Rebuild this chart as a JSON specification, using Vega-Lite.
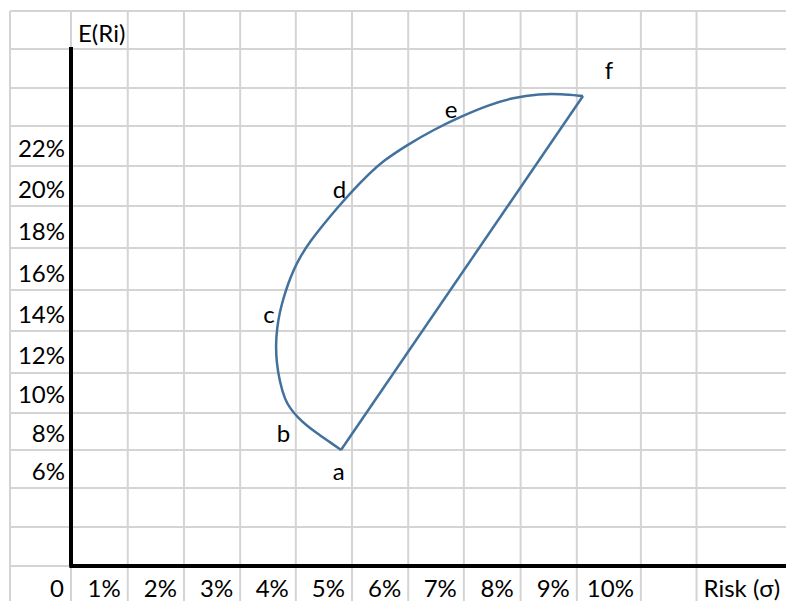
{
  "$schema": "https://vega.github.io/schema/vega-lite/v6.json",
  "width": 776,
  "height": 590,
  "autosize": {"type": "none"},
  "padding": {"left": 10, "top": 11, "right": 0, "bottom": 0},
  "background": "white",
  "view": {"stroke": null},
  "config": {"text": {"font": "Lato", "fontSize": 24, "color": "#000000"}},
  "datasets": {
    "vgrid": [{"x": -1.085}, {"x": 0}, {"x": 1.01}, {"x": 2.01}, {"x": 3.01}, {"x": 4.0}, {"x": 5.0}, {"x": 6.0}, {"x": 6.99}, {"x": 8.0}, {"x": 9.0}, {"x": 10.14}, {"x": 11.13}],
    "hgrid": [{"y": 28.71}, {"y": 26.75}, {"y": 24.73}, {"y": 22.76}, {"y": 20.69}, {"y": 18.62}, {"y": 16.45}, {"y": 14.28}, {"y": 12.16}, {"y": 9.98}, {"y": 7.92}, {"y": 6.0}, {"y": 4.04}, {"y": 2.02}, {"y": 0}],
    "curve": [
      {"part": "frontier", "i": 1, "risk": 4.804, "ret": 6.001},
      {"part": "frontier", "i": 2, "risk": 4.591, "ret": 6.441},
      {"part": "frontier", "i": 3, "risk": 4.377, "ret": 6.865},
      {"part": "frontier", "i": 4, "risk": 4.181, "ret": 7.294},
      {"part": "frontier", "i": 5, "risk": 4.021, "ret": 7.724},
      {"part": "frontier", "i": 6, "risk": 3.897, "ret": 8.174},
      {"part": "frontier", "i": 7, "risk": 3.808, "ret": 8.588},
      {"part": "frontier", "i": 8, "risk": 3.710, "ret": 9.571},
      {"part": "frontier", "i": 9, "risk": 3.657, "ret": 10.554},
      {"part": "frontier", "i": 10, "risk": 3.644, "ret": 11.433},
      {"part": "frontier", "i": 11, "risk": 3.665, "ret": 12.312},
      {"part": "frontier", "i": 12, "risk": 3.715, "ret": 13.140},
      {"part": "frontier", "i": 13, "risk": 3.781, "ret": 13.864},
      {"part": "frontier", "i": 14, "risk": 3.861, "ret": 14.589},
      {"part": "frontier", "i": 15, "risk": 3.959, "ret": 15.313},
      {"part": "frontier", "i": 16, "risk": 4.075, "ret": 15.986},
      {"part": "frontier", "i": 17, "risk": 4.253, "ret": 16.787},
      {"part": "frontier", "i": 18, "risk": 4.484, "ret": 17.641},
      {"part": "frontier", "i": 19, "risk": 4.751, "ret": 18.572},
      {"part": "frontier", "i": 20, "risk": 5.036, "ret": 19.503},
      {"part": "frontier", "i": 21, "risk": 5.320, "ret": 20.331},
      {"part": "frontier", "i": 22, "risk": 5.552, "ret": 20.952},
      {"part": "frontier", "i": 23, "risk": 5.979, "ret": 21.780},
      {"part": "frontier", "i": 24, "risk": 6.459, "ret": 22.581},
      {"part": "frontier", "i": 25, "risk": 6.922, "ret": 23.228},
      {"part": "frontier", "i": 26, "risk": 7.402, "ret": 23.823},
      {"part": "frontier", "i": 27, "risk": 7.865, "ret": 24.237},
      {"part": "frontier", "i": 28, "risk": 8.345, "ret": 24.418},
      {"part": "frontier", "i": 29, "risk": 8.701, "ret": 24.418},
      {"part": "frontier", "i": 30, "risk": 9.110, "ret": 24.315},
      {"part": "chord", "i": 1, "risk": 9.110, "ret": 24.315},
      {"part": "chord", "i": 2, "risk": 4.804, "ret": 6.001}
    ],
    "points": [
      {"label": "a", "risk": 4.765, "ret": 4.449},
      {"label": "b", "risk": 3.781, "ret": 6.415},
      {"label": "c", "risk": 3.523, "ret": 12.571},
      {"label": "d", "risk": 4.778, "ret": 19.038},
      {"label": "e", "risk": 6.762, "ret": 23.176},
      {"label": "f", "risk": 9.573, "ret": 25.194}
    ],
    "ylabels": [
      {"label": "22%", "y": 21.16}, {"label": "20%", "y": 19.04}, {"label": "18%", "y": 16.86},
      {"label": "16%", "y": 14.69}, {"label": "14%", "y": 12.57}, {"label": "12%", "y": 10.45},
      {"label": "10%", "y": 8.43}, {"label": "8%", "y": 6.41}, {"label": "6%", "y": 4.45}
    ],
    "xlabels": [
      {"label": "0", "x": 0}, {"label": "1%", "x": 1.01}, {"label": "2%", "x": 2.01}, {"label": "3%", "x": 3.01},
      {"label": "4%", "x": 4.0}, {"label": "5%", "x": 5.0}, {"label": "6%", "x": 6.0}, {"label": "7%", "x": 6.99},
      {"label": "8%", "x": 8.0}, {"label": "9%", "x": 9.0}, {"label": "10%", "x": 10.14}
    ],
    "titles": [
      {"label": "E(Ri)", "x": 0, "y": 27.11},
      {"label": "Risk (σ)", "x": 11.13, "y": -1.60}
    ]
  },
  "layer": [
    {
      "data": {"name": "vgrid"},
      "mark": {"type": "rule", "color": "#D4D4D4", "strokeWidth": 2},
      "encoding": {
        "x": {"field": "x", "type": "quantitative", "scale": {"domain": [-1.0854, 12.722], "nice": false, "zero": false}, "axis": null}
      }
    },
    {
      "data": {"name": "hgrid"},
      "mark": {"type": "rule", "color": "#D4D4D4", "strokeWidth": 2},
      "encoding": {
        "y": {"field": "y", "type": "quantitative", "scale": {"domain": [-1.8107, 28.712], "nice": false, "zero": false}, "axis": null}
      }
    },
    {
      "data": {"values": [{}]},
      "mark": {"type": "rule", "color": "#000000", "strokeWidth": 4},
      "encoding": {
        "x": {"datum": 0, "type": "quantitative"},
        "y": {"datum": 0, "type": "quantitative"},
        "y2": {"datum": 26.85}
      }
    },
    {
      "data": {"values": [{}]},
      "mark": {"type": "rule", "color": "#000000", "strokeWidth": 4},
      "encoding": {
        "x": {"datum": -0.03, "type": "quantitative"},
        "x2": {"datum": 12.722},
        "y": {"datum": 0, "type": "quantitative"}
      }
    },
    {
      "data": {"name": "curve"},
      "mark": {"type": "line", "color": "#41719C", "strokeWidth": 2.5, "interpolate": "basis"},
      "encoding": {
        "x": {"field": "risk", "type": "quantitative"},
        "y": {"field": "ret", "type": "quantitative"},
        "detail": {"field": "part"},
        "order": {"field": "i", "type": "quantitative"}
      }
    },
    {
      "data": {"name": "points"},
      "mark": {"type": "text", "align": "center", "baseline": "alphabetic"},
      "encoding": {
        "x": {"field": "risk", "type": "quantitative"},
        "y": {"field": "ret", "type": "quantitative"},
        "text": {"field": "label"}
      }
    },
    {
      "data": {"name": "ylabels"},
      "mark": {"type": "text", "align": "right", "baseline": "alphabetic", "dx": -6},
      "encoding": {
        "x": {"datum": 0, "type": "quantitative"},
        "y": {"field": "y", "type": "quantitative"},
        "text": {"field": "label"}
      }
    },
    {
      "data": {"name": "xlabels"},
      "mark": {"type": "text", "align": "right", "baseline": "alphabetic", "dx": -7},
      "encoding": {
        "x": {"field": "x", "type": "quantitative"},
        "y": {"datum": -1.60, "type": "quantitative"},
        "text": {"field": "label"}
      }
    },
    {
      "data": {"name": "titles"},
      "mark": {"type": "text", "align": "left", "baseline": "alphabetic", "dx": 7},
      "encoding": {
        "x": {"field": "x", "type": "quantitative"},
        "y": {"field": "y", "type": "quantitative"},
        "text": {"field": "label"}
      }
    }
  ]
}
